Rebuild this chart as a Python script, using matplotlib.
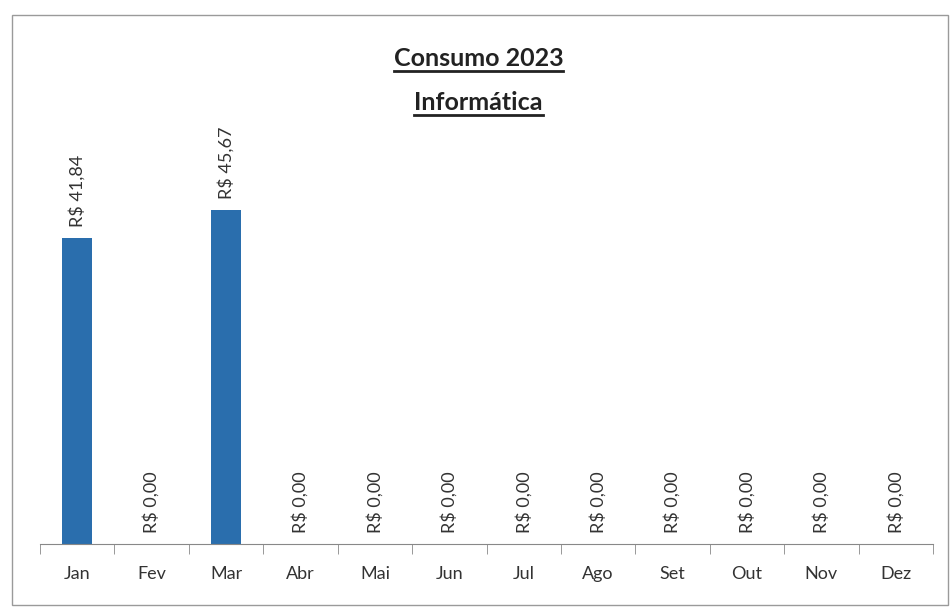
import matplotlib.pyplot as plt
from matplotlib.patches import Rectangle
from matplotlib.lines import Line2D

plt.rcParams['font.family'] = ['Lato', 'DejaVu Sans']

meses = ["Jan", "Fev", "Mar", "Abr", "Mai", "Jun", "Jul", "Ago", "Set", "Out", "Nov", "Dez"]
valores = [41.84, 0.00, 45.67, 0.00, 0.00, 0.00, 0.00, 0.00, 0.00, 0.00, 0.00, 0.00]
titulo = "Consumo 2023"
subtitulo = "Informática"


def reais(v):
    return "R$ " + f"{v:.2f}".replace(".", ",")


fig = plt.figure(figsize=(9.53, 6.11), dpi=100)
ax = fig.add_axes([0.042, 0.110, 0.937, 0.675])

x = list(range(len(meses)))
ax.bar(x, valores, width=0.4, color="#2a6ead")
ax.set_xlim(-0.5, len(meses) - 0.5)
ax.set_ylim(0, 56.4)

for xi, v in zip(x, valores):
    ax.annotate(reais(v), (xi, v), xytext=(0, 8), textcoords="offset points",
                rotation=90, ha="center", va="bottom", fontsize=13, color="#333333")

# eixo estilo Excel: so a linha de baixo, marcas entre categorias
for lado in ["top", "right", "left"]:
    ax.spines[lado].set_visible(False)
ax.spines["bottom"].set_color("#888888")
ax.set_yticks([])
ax.set_xticks(x)
ax.set_xticklabels(meses, fontsize=13, color="#333333")
ax.tick_params(axis="x", which="major", length=0, pad=16)
ax.set_xticks([i - 0.5 for i in range(len(meses) + 1)], minor=True)
ax.tick_params(axis="x", which="minor", length=7, color="#888888")

# moldura do grafico
fig.patches.append(Rectangle((12 / 953, 6 / 611), 936 / 953, 590 / 611,
                             transform=fig.transFigure, fill=False,
                             edgecolor="#9a9a9a", linewidth=1))

# titulos sublinhados
t1 = fig.text(0.502, 0.905, titulo, ha="center", va="center",
              fontsize=18, fontweight="bold", color="#222222")
t2 = fig.text(0.502, 0.833, subtitulo, ha="center", va="center",
              fontsize=18, fontweight="bold", color="#222222")
fig.canvas.draw()
r = fig.canvas.get_renderer()
for t in (t1, t2):
    bb = t.get_window_extent(r).transformed(fig.transFigure.inverted())
    y = bb.y0 - 0.003
    fig.add_artist(Line2D([bb.x0, bb.x1], [y, y], transform=fig.transFigure,
                          color="#222222", linewidth=2))

plt.savefig("out.png", dpi=100)
plt.close()
